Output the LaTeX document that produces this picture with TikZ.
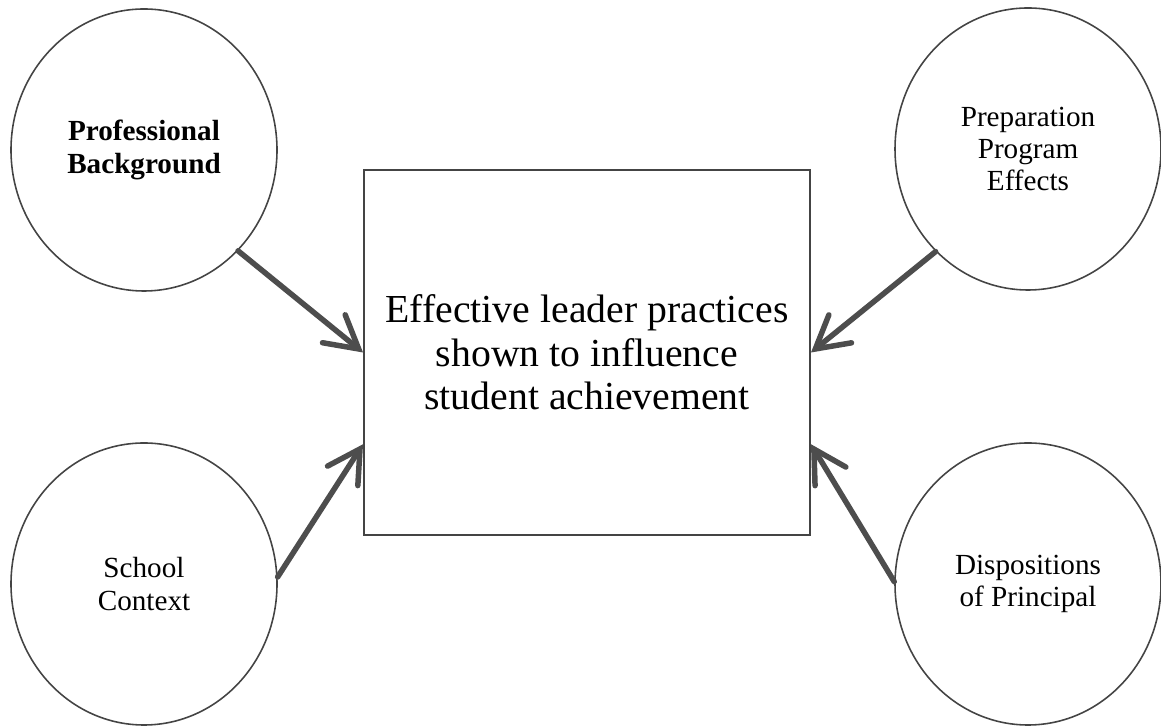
\documentclass[tikz,border=0pt]{standalone}
\usepackage{fontspec}
\setmainfont{Liberation Serif}
\usetikzlibrary{shapes.geometric,arrows.meta,calc}
\definecolor{rim}{HTML}{444444}
\definecolor{shaft}{HTML}{4D4D4D}
\begin{document}
\begin{tikzpicture}[
  bubble/.style={ellipse, draw=rim, line width=0.45pt, minimum width=2.66cm,
    minimum height=2.82cm, inner sep=0pt, align=center,
    font=\fontsize{8.3}{9.2}\selectfont},
  core/.style={rectangle, draw=rim, line width=0.55pt, minimum width=4.46cm,
    minimum height=3.65cm, align=center, font=\fontsize{11.3}{12.4}\selectfont},
  push/.style={draw=shaft, line width=0.055cm, line cap=round,
    -{Straight Barb[length=3.2mm,width=3.6mm,line cap=round]}}]
\useasboundingbox (0,0) rectangle (11.61,7.28);
% four factors around the practices box
\node[bubble] (bg) at (1.44,5.78) {\textbf{Professional}\\\textbf{Background}};
\node[bubble] (ctx) at (1.44,1.44) {School\\Context};
\node[bubble] (prep) at (10.28,5.79) {Preparation\\Program\\Effects};
\node[bubble] (disp) at (10.28,1.44) {Dispositions\\of Principal};
\node[core] (core) at (5.87,3.755) {Effective leader practices\\shown to influence\\student achievement};
% influences
\draw[push] (bg.-47) -- (core.west);
\draw[push] (ctx.3) -- ($(core.west)!0.5!(core.south west)$);
\draw[push] (prep.228) -- (core.east);
\draw[push] (disp.179) -- ($(core.east)!0.5!(core.south east)$);
\end{tikzpicture}
\end{document}
